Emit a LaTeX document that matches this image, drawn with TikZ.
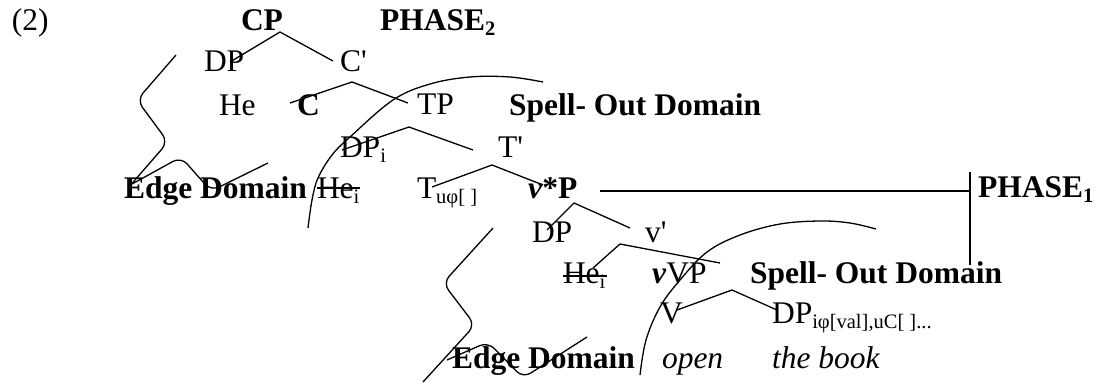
\documentclass[tikz,border=0pt]{standalone}
\usepackage{fontspec}
\setmainfont{Liberation Serif}
\newcommand\sbs[1]{\raisebox{-0.17em}{\fontsize{20.5}{22}\selectfont #1}}
\newcommand\ap{\textquotesingle}
\begin{document}
\begin{tikzpicture}[x=1pt,y=-1pt,
  lbl/.style={anchor=base west, inner sep=0pt, outer sep=0pt, font=\fontsize{31.5}{36}\selectfont},
  blbl/.style={lbl, font=\fontsize{31.5}{36}\selectfont\bfseries},
  ilbl/.style={lbl, font=\fontsize{31.5}{36}\selectfont\itshape},
  br/.style={line width=1.3pt},
  curve/.style={line width=1.3pt, rounded corners=9pt},
  arcline/.style={line width=1.3pt}]
\useasboundingbox (0,0) rectangle (1095,383);
% labels
\node[lbl]  (ex)   at (12,30)  {(2)};
\node[blbl] (CP)   at (241,30) {CP};
\node[blbl] (ph2)  at (380,30) {PHASE\sbs{2}};
\node[lbl]  (DPa)  at (204,71) {DP};
\node[lbl]  (Cb)   at (340,71) {C\ap};
\node[lbl]  (He)   at (219,115) {He};
\node[blbl] (C)    at (297,115) {C};
\node[lbl]  (TP)   at (417,114) {TP};
\node[blbl] (so1)  at (509,115) {Spell- Out Domain};
\node[lbl]  (DPi)  at (340,157) {DP\sbs{i}};
\node[lbl]  (Tb)   at (498,157) {T\ap};
\node[blbl] (ed1)  at (124,198) {Edge Domain};
\node[lbl]  (He1)  at (317,198) {He\sbs{i}};
\node[lbl]  (T)    at (417,198) {T\sbs{uφ[ ]}};
\node[blbl] (vsP)  at (528,198) {\textit{v}*P};
\node[blbl] (ph1)  at (978,197) {PHASE\sbs{1}};
\node[lbl]  (DPb)  at (532,242) {DP};
\node[lbl]  (vb)   at (645,242) {v\ap};
\node[lbl]  (He2)  at (563,283) {He\sbs{i}};
\node[lbl]  (vVP)  at (652,283) {\textbf{\textit{v}}VP};
\node[blbl] (so2)  at (750,283) {Spell- Out Domain};
\node[lbl]  (V)    at (660,323) {V};
\node[lbl]  (DPc)  at (772,323) {DP\sbs{iφ[val],uC[ ]...}};
\node[blbl] (ed2)  at (452,368) {Edge Domain};
\node[ilbl] (open) at (662,368) {open};
\node[ilbl] (book) at (772,368) {the book};
% branch points
\coordinate (cpA) at (280,32); \coordinate (cpL) at (230,62); \coordinate (cpR) at (333,61);
\coordinate (cbA) at (352,82); \coordinate (cbL) at (290,103); \coordinate (cbR) at (408,103);
\coordinate (tpA) at (409,127); \coordinate (tpL) at (342,150); \coordinate (tpR) at (473,150);
\coordinate (tbA) at (492,165); \coordinate (tbL) at (432,187); \coordinate (tbR) at (543,185);
\coordinate (vpA) at (574,203); \coordinate (vpL) at (547,230); \coordinate (vpR) at (630,228);
\coordinate (vbA) at (620,244); \coordinate (vbL) at (593,268); \coordinate (vbR) at (720,263);
\coordinate (vvA) at (732,290); \coordinate (vvL) at (677,310); \coordinate (vvR) at (777,310);
\draw[br] (cpL) -- (cpA) -- (cpR);
\draw[br] (cbL) -- (cbA) -- (cbR);
\draw[br] (tpL) -- (tpA) -- (tpR);
\draw[br] (tbL) -- (tbA) -- (tbR);
\draw[br] (vpL) -- (vpA) -- (vpR);
\draw[br] (vbL) -- (vbA) -- (vbR);
\draw[br] (vvL) -- (vvA) -- (vvR);
% phase line
\coordinate (hl) at (600,191); \coordinate (hr) at (970,191);
\coordinate (vt) at (970,172); \coordinate (vbt) at (970,265);
\draw[br] (hl) -- (hr);
\draw[br] (vt) -- (vbt);
% strikes
\coordinate (s1a) at (317,188); \coordinate (s1b) at (360,188);
\coordinate (s2a) at (563,276); \coordinate (s2b) at (607,276);
\draw[br] (s1a) -- (s1b);
\draw[br] (s2a) -- (s2b);
% arcs
\draw[arcline] plot[smooth, tension=0.6] coordinates {(308,228) (312,200) (318,178) (332,155) (350,137) (393,100) (430,84) (470,77) (510,77) (543,82)};
\draw[arcline] plot[smooth, tension=0.6] coordinates {(640,375) (646,340) (660,307) (680,280) (707,252) (740,235) (780,224) (820,221) (850,223) (876,229)};
% edge brackets
\draw[curve] (176,55) -- (137,100) -- (168,142) -- (128,188);
\draw[curve] (132,184) -- (181,157) -- (211,191) -- (268,163);
\draw[curve] (493,228) -- (443,283) -- (475,325) -- (423,382);
\draw[curve] (447,360) -- (488,342) -- (523,378) -- (587,337);
\end{tikzpicture}
\end{document}
